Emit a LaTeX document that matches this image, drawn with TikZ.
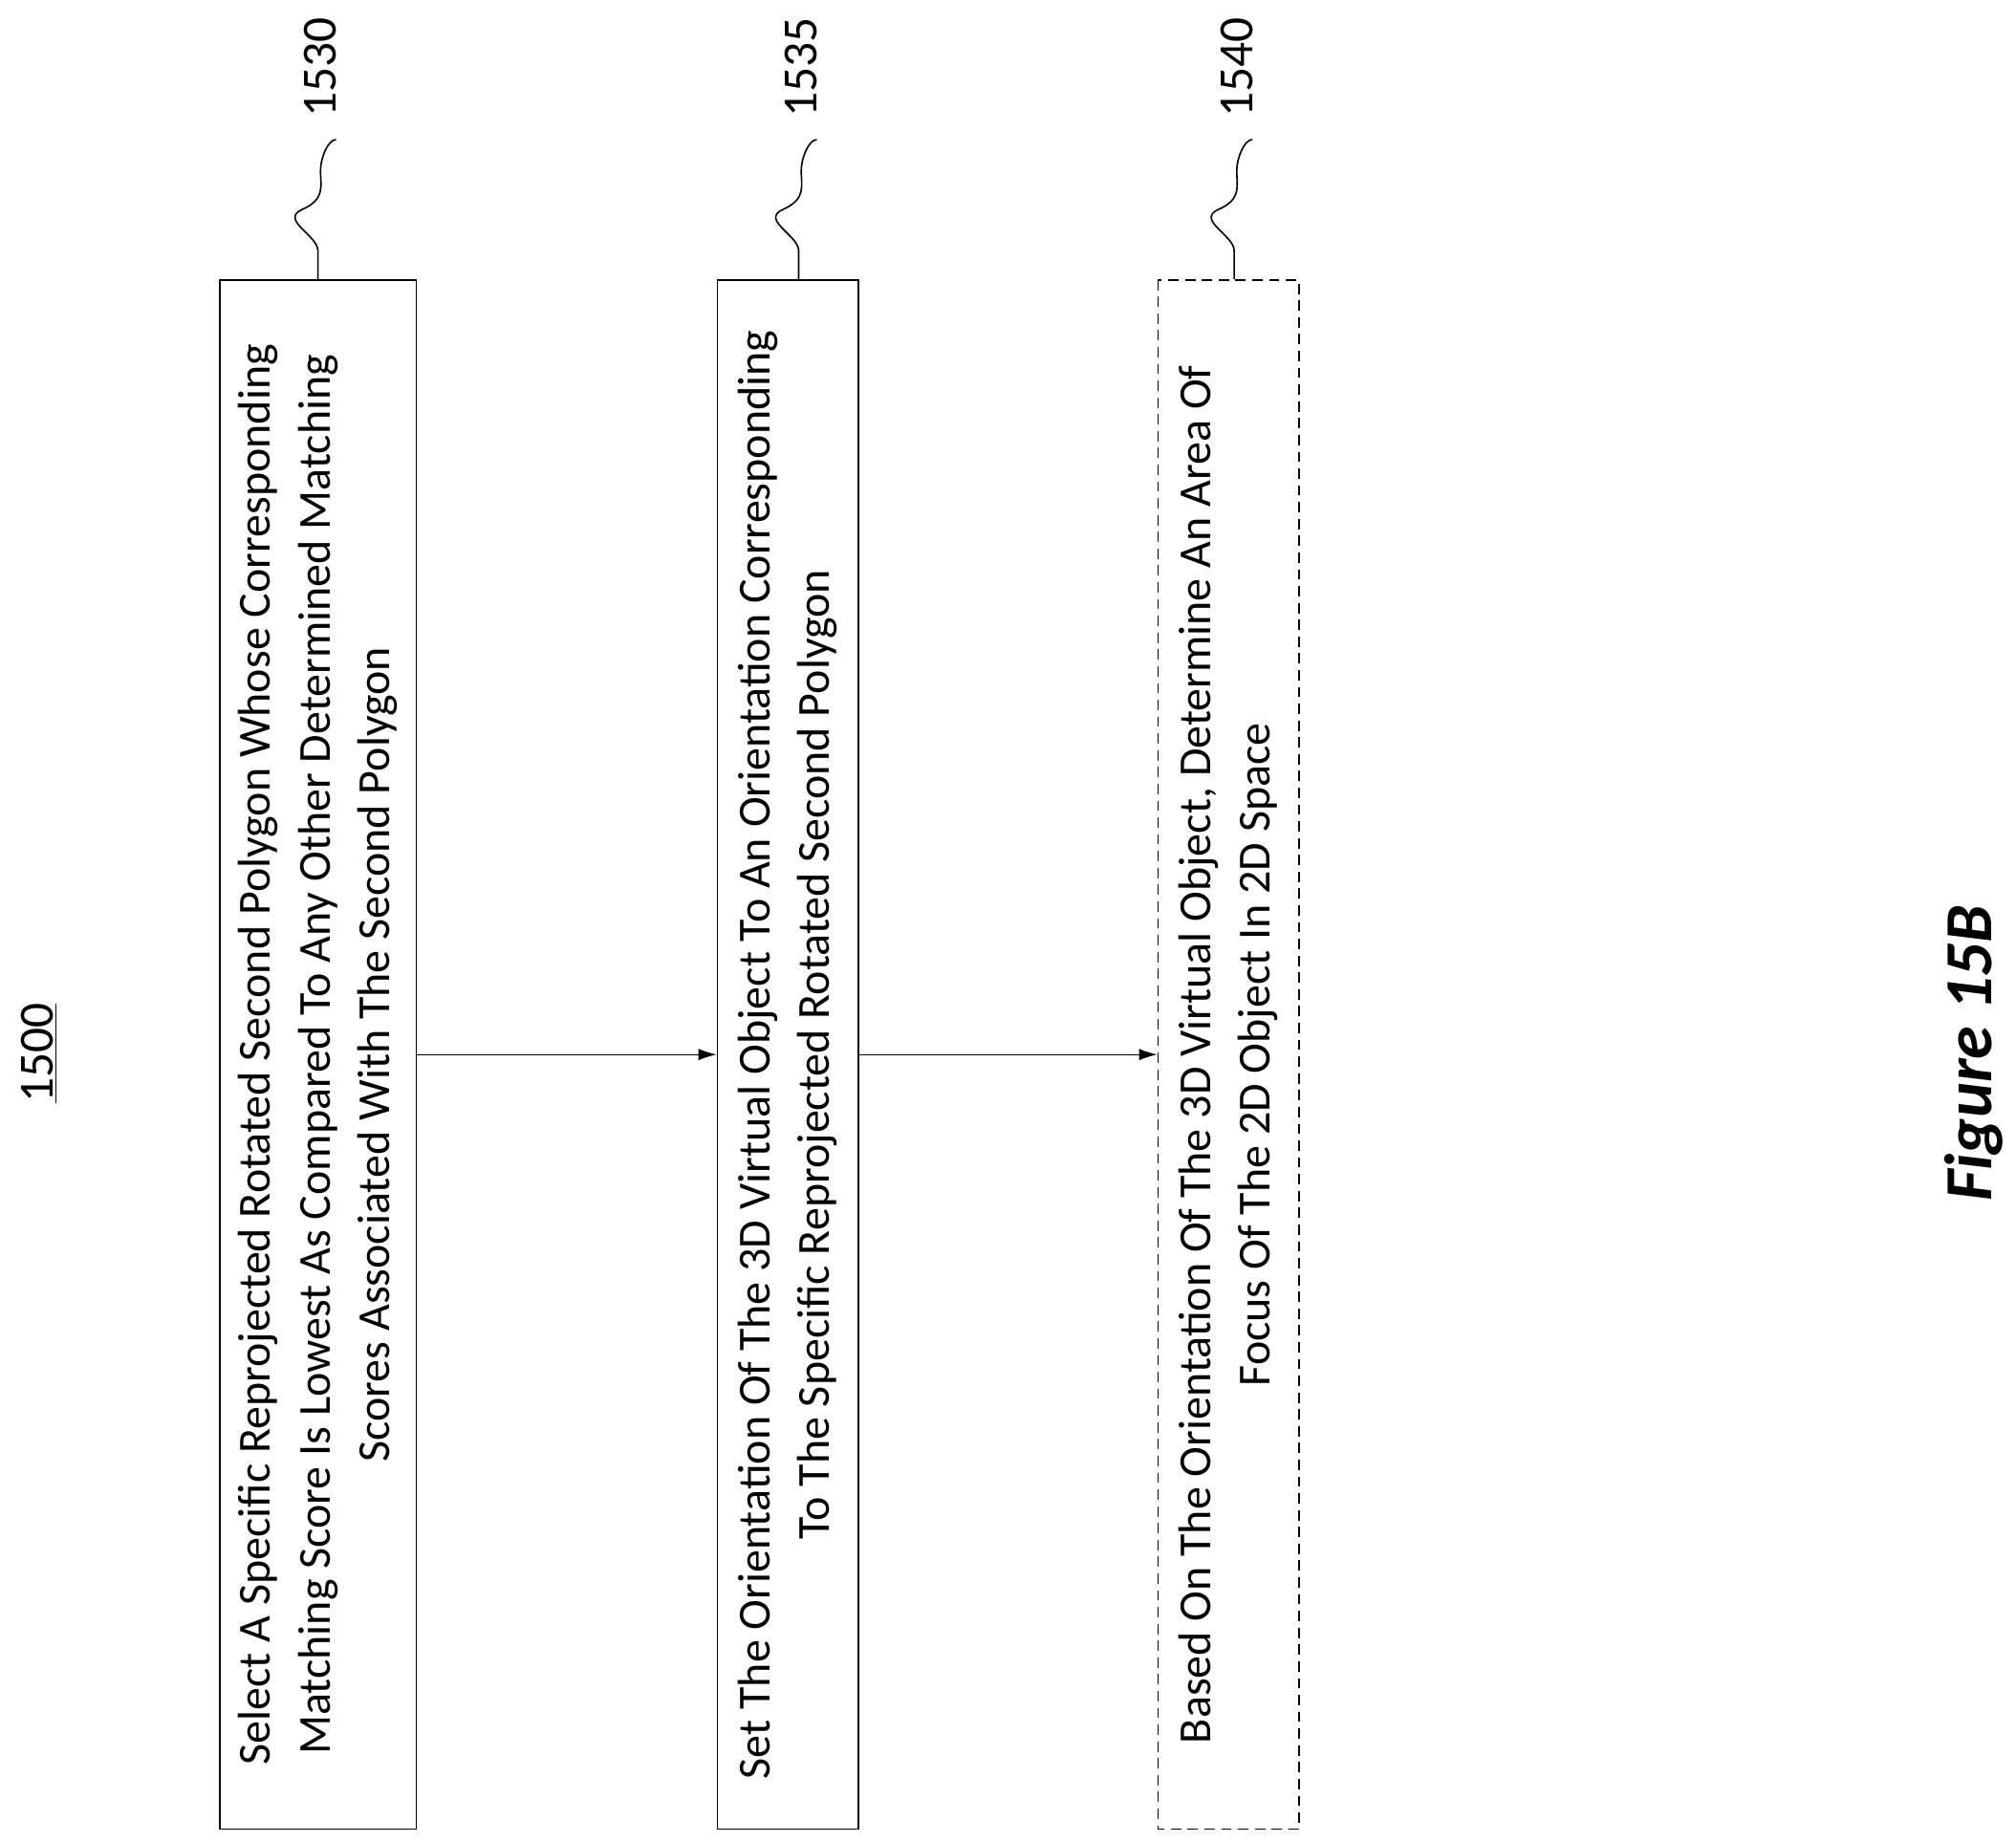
\documentclass[tikz,border=0pt]{standalone}
\usepackage{fontspec}
\setmainfont{Carlito}
\usetikzlibrary{arrows.meta}
\begin{document}
\begin{tikzpicture}[x=1pt,y=-1pt,
  box/.style={draw,line width=1.2pt,minimum width=1199pt,rotate=90,align=center,font=\fontsize{35.5}{46}\selectfont,inner sep=0pt},
  arr/.style={-{Latex[length=14pt,width=9pt]},line width=0.8pt},
  lab/.style={rotate=90,font=\fontsize{38}{40}\selectfont},
  sq/.style={line width=1.2pt}]
\useasboundingbox (0,0) rectangle (1560,1425);
\node[box,minimum height=152pt] (b1) at (246,816) {Select A Specific Reprojected Rotated Second Polygon Whose Corresponding\\Matching Score Is Lowest As Compared To Any Other Determined Matching\\Scores Associated With The Second Polygon};
\node[box,minimum height=109pt] (b2) at (609.5,816) {Set The Orientation Of The 3D Virtual Object To An Orientation Corresponding\\To The Specific Reprojected Rotated Second Polygon};
\node[box,minimum height=109pt,dashed,dash pattern=on 8pt off 5pt] (b3) at (950.5,816) {Based On The Orientation Of The 3D Virtual Object, Determine An Area Of\\Focus Of The 2D Object In 2D Space};
\draw[arr] (b1.south) -- (b2.north);
\draw[arr] (b2.south) -- (b3.north);
\foreach \n/\x/\t in {b1/246/1530,b2/618/1535,b3/955/1540}{
  \coordinate (s\n) at (\x,216);
  \draw[sq] (s\n) -- ++(0,-22) .. controls ++(0,-12) and ++(-18,8) .. ++(-12,-32) .. controls ++(18,-8) and ++(0,12) .. ++(14,-30) .. controls ++(0,-10) and ++(-6,0) .. ++(12,-24);
  \node[lab] (l\n) at (\x+2,52) {\t};
}
\node[lab] (t1500) at (30,815) {\underline{1500}};
\node[rotate=90,font=\fontsize{52}{56}\selectfont\bfseries\itshape] (fig) at (1527,815) {Figure 15B};
\end{tikzpicture}
\end{document}
